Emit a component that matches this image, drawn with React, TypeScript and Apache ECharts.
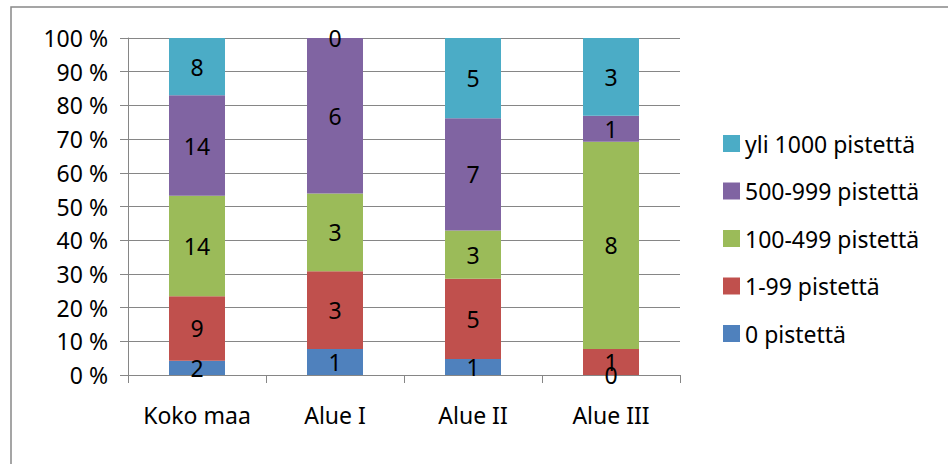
import React, { useEffect, useRef } from "react";
import * as echarts from "echarts";

const categories = ["Koko maa", "Alue I", "Alue II", "Alue III"];
const seriesNames = ["0 pistettä", "1-99 pistettä", "100-499 pistettä", "500-999 pistettä", "yli 1000 pistettä"];
const count0 = [2, 1, 1, 0];
const count1to99 = [9, 3, 5, 1];
const count100to499 = [14, 3, 3, 8];
const count500to999 = [14, 6, 7, 1];
const countOver1000 = [8, 0, 5, 3];
const yTicks = { min: 0, max: 100, interval: 10 };
const colors = ["#4F81BD", "#C0504D", "#9BBB59", "#8064A2", "#4BACC6"];

const counts = [count0, count1to99, count100to499, count500to999, countOver1000];
const totals = categories.map((_, j) => counts.reduce((s, arr) => s + arr[j], 0));

const FONT = "'Noto Sans', sans-serif";
const FS = 23;

export default function App() {
  const ref = useRef<HTMLDivElement>(null);
  useEffect(() => {
    if (!ref.current) return;
    const chart = echarts.init(ref.current, null, { renderer: "svg" });
    chart.setOption({
      animation: false,
      backgroundColor: "#ffffff",
      textStyle: { fontFamily: FONT },
      graphic: [
        {
          type: "rect",
          shape: { x: 11, y: 7, width: 1000, height: 1000 },
          style: { fill: "none", stroke: "#888888", lineWidth: 1.5 },
          silent: true,
        },
      ],
      grid: { left: 128, right: 268, top: 38, bottom: 89, containLabel: false },
      legend: {
        orient: "vertical",
        left: 723,
        top: 132,
        padding: 0,
        itemWidth: 17,
        itemHeight: 17,
        itemGap: 24.5,
        icon: "rect",
        data: seriesNames.slice().reverse(),
        textStyle: { fontFamily: FONT, fontSize: FS, color: "#000", lineHeight: 23, padding: [0, 0, 0, 0] },
      },
      xAxis: {
        type: "category",
        data: categories,
        axisLine: { show: true, lineStyle: { color: "#868686", width: 1 } },
        axisTick: { show: true, length: 8, alignWithLabel: false, interval: 0, lineStyle: { color: "#868686" } },
        axisLabel: { fontFamily: FONT, fontSize: FS, color: "#000", margin: 28, interval: 0 },
        splitLine: { show: false },
      },
      yAxis: {
        type: "value",
        min: yTicks.min,
        max: yTicks.max,
        interval: yTicks.interval,
        axisLine: { show: true, lineStyle: { color: "#868686", width: 1 } },
        axisTick: { show: true, length: 8, lineStyle: { color: "#868686" } },
        axisLabel: { fontFamily: FONT, fontSize: FS, color: "#000", margin: 20, formatter: "{value} %" },
        splitLine: { show: true, lineStyle: { color: "#868686", width: 1 } },
      },
      series: seriesNames.map((name, i) => ({
        name,
        type: "bar",
        stack: "total",
        barWidth: 56,
        itemStyle: { color: colors[i] },
        label: {
          show: true,
          position: "inside",
          color: "#000",
          fontFamily: FONT,
          fontSize: FS,
          formatter: (p: any) => String(counts[i][p.dataIndex]),
        },
        labelLayout: { hideOverlap: false },
        data: counts[i].map((v, j) => (v / totals[j]) * 100),
      })),
    });
    return () => chart.dispose();
  }, []);
  return (
    <div
      ref={ref}
      style={{ position: "fixed", left: 0, top: 0, width: 948, height: 464 }}
    />
  );
}
